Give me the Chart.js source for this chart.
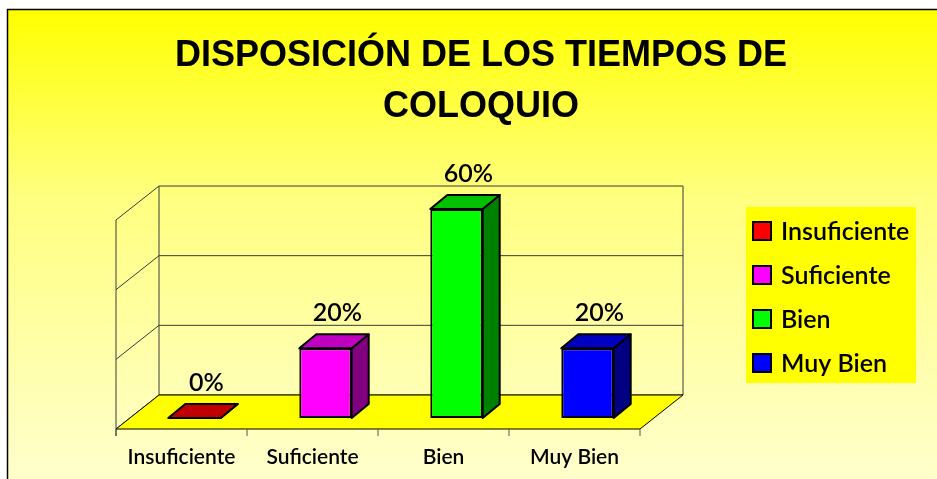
<!DOCTYPE html>
<html><head><meta charset="utf-8">
<script src="https://cdn.jsdelivr.net/npm/chart.js@4.4.0/dist/chart.umd.min.js"></script>
<style>html,body{margin:0;padding:0;background:#fff;overflow:hidden}canvas{display:block}</style>
</head><body>
<canvas id="c" width="937" height="479"></canvas>
<script>
// ---- data ----
const categories = ['Insuficiente', 'Suficiente', 'Bien', 'Muy Bien'];
const values = [0, 0.2, 0.6, 0.2];
const yTicks = [0, 0.2, 0.4, 0.6];
const titleLines = ['DISPOSICIÓN DE LOS TIEMPOS DE', 'COLOQUIO'];

// ---- styles ----
const frontColors = ['#FF0000', '#FF00FF', '#00FF00', '#0000FF'];
const topColors = ['#C00000', '#C000C0', '#00C000', '#0000C0'];
const sideColors = ['#800000', '#800080', '#008000', '#000080'];
const BAR_DX = 17, BAR_DY = -14;      // bar depth
const FRONT_DX = -13, FRONT_DY = 11;  // floor front edge vs bar plane
const BACK_DX = 30, BACK_DY = -23;    // back wall vs bar plane
const LABEL_FONT = 'Lato, "Open Sans", sans-serif';

function pct(v) { return Math.round(v * 100) + '%'; }

function poly(ctx, pts, fill, stroke, lw) {
  ctx.beginPath();
  ctx.moveTo(pts[0][0], pts[0][1]);
  for (let i = 1; i < pts.length; i++) ctx.lineTo(pts[i][0], pts[i][1]);
  ctx.closePath();
  if (fill) { ctx.fillStyle = fill; ctx.fill(); }
  if (stroke) { ctx.strokeStyle = stroke; ctx.lineWidth = lw; ctx.stroke(); }
}
function line(ctx, x1, y1, x2, y2) {
  ctx.beginPath(); ctx.moveTo(x1, y1); ctx.lineTo(x2, y2); ctx.stroke();
}

const scene = {
  id: 'scene',
  beforeDraw(chart) {
    const ctx = chart.ctx, W = chart.width, H = chart.height;
    ctx.save();
    ctx.fillStyle = '#fff'; ctx.fillRect(0, 0, W, H);
    const g = ctx.createLinearGradient(0, 9, 0, H);
    g.addColorStop(0, '#FFFF00');
    g.addColorStop(0.4, '#FFFF80');
    g.addColorStop(1, '#FFFFCC');
    ctx.fillStyle = g; ctx.fillRect(7, 9, W - 7, H - 9);
    ctx.strokeStyle = '#000'; ctx.lineWidth = 1.5;
    ctx.beginPath(); ctx.moveTo(7.5, H); ctx.lineTo(7.5, 9.5); ctx.lineTo(W, 9.5); ctx.stroke();
    ctx.restore();
  },
  beforeDatasetsDraw(chart) {
    const ctx = chart.ctx, xs = chart.scales.x, ys = chart.scales.y;
    const n = categories.length;
    const L = xs.getPixelForValue(-0.5), R = xs.getPixelForValue(n - 0.5);
    const y0 = ys.getPixelForValue(0), yT = ys.getPixelForValue(yTicks[yTicks.length - 1]);
    ctx.save();
    ctx.strokeStyle = '#3a3a3a'; ctx.lineWidth = 1;
    // back wall grid + left wall diagonals
    yTicks.forEach(v => {
      const yp = ys.getPixelForValue(v);
      line(ctx, L + BACK_DX, yp + BACK_DY, R + BACK_DX, yp + BACK_DY);
      line(ctx, L + FRONT_DX, yp + FRONT_DY, L + BACK_DX, yp + BACK_DY);
    });
    line(ctx, L + BACK_DX, yT + BACK_DY, L + BACK_DX, y0 + BACK_DY);
    line(ctx, R + BACK_DX, yT + BACK_DY, R + BACK_DX, y0 + BACK_DY);
    line(ctx, L + FRONT_DX, yT + FRONT_DY, L + FRONT_DX, y0 + FRONT_DY + 7);
    // floor
    poly(ctx, [[L + FRONT_DX, y0 + FRONT_DY], [R + FRONT_DX, y0 + FRONT_DY],
               [R + BACK_DX, y0 + BACK_DY], [L + BACK_DX, y0 + BACK_DY]], '#FFFF00', '#000', 1);
    // category ticks on the front edge
    ctx.strokeStyle = '#555'; ctx.lineWidth = 1;
    for (let i = 0; i <= n; i++) {
      const x = xs.getPixelForValue(i - 0.5) + FRONT_DX;
      line(ctx, x, y0 + FRONT_DY, x, y0 + FRONT_DY + 7);
    }
    // bar tops and sides
    const meta = chart.getDatasetMeta(0);
    ctx.lineJoin = 'round';
    meta.data.forEach((el, i) => {
      const p = el.getProps(['x', 'y', 'base', 'width'], true);
      const l = p.x - p.width / 2, r = p.x + p.width / 2;
      poly(ctx, [[r, p.y], [r + BAR_DX, p.y + BAR_DY], [r + BAR_DX, p.base + BAR_DY], [r, p.base]],
           sideColors[i], '#000', 2);
      poly(ctx, [[l, p.y], [r, p.y], [r + BAR_DX, p.y + BAR_DY], [l + BAR_DX, p.y + BAR_DY]],
           topColors[i], '#000', 2);
    });
    ctx.restore();
  },
  afterDatasetsDraw(chart) {
    const ctx = chart.ctx;
    const meta = chart.getDatasetMeta(0);
    ctx.save();
    ctx.fillStyle = '#000';
    ctx.font = '600 25px ' + LABEL_FONT;
    ctx.textAlign = 'center'; ctx.textBaseline = 'alphabetic';
    meta.data.forEach((el, i) => {
      const p = el.getProps(['x', 'y'], true);
      ctx.fillText(pct(values[i]), p.x + 12, p.y + BAR_DY - 13);
    });
    ctx.restore();
  },
  afterDraw(chart) {
    const ctx = chart.ctx;
    ctx.save();
    ctx.fillStyle = '#FFFF00';
    ctx.fillRect(746, 207, 170, 176);
    ctx.font = '600 25px ' + LABEL_FONT;
    ctx.textAlign = 'left'; ctx.textBaseline = 'middle';
    categories.forEach((c, i) => {
      const cy = 231 + i * 44;
      ctx.fillStyle = frontColors[i];
      ctx.fillRect(753, cy - 9, 18, 18);
      ctx.strokeStyle = '#000'; ctx.lineWidth = 2;
      ctx.strokeRect(753, cy - 9, 18, 18);
      ctx.fillStyle = '#000';
      ctx.fillText(c, 781, cy + 1);
    });
    ctx.restore();
  }
};

new Chart(document.getElementById('c'), {
  type: 'bar',
  data: {
    labels: categories,
    datasets: [{
      label: 'Disposición',
      data: values,
      backgroundColor: frontColors,
      borderColor: '#000',
      borderWidth: 2,
      borderSkipped: false,
      categoryPercentage: 1,
      barPercentage: 0.4
    }]
  },
  options: {
    responsive: false,
    animation: false,
    devicePixelRatio: 1,
    layout: { padding: { left: 25, right: 0, top: 0, bottom: 0 }, autoPadding: false },
    plugins: {
      legend: { display: false },
      tooltip: { enabled: false },
      title: {
        display: true,
        text: titleLines,
        color: '#000',
        font: { family: '"Liberation Sans", Arial, sans-serif', size: 36, weight: 'bold', lineHeight: 51 / 36 },
        padding: { top: 31, bottom: 76 }
      }
    },
    scales: {
      x: {
        grid: { display: false, drawTicks: false },
        border: { display: false },
        ticks: { color: '#000', font: { family: LABEL_FONT, size: 21, weight: '600' }, padding: 27, labelOffset: FRONT_DX, maxRotation: 0, autoSkip: false },
        afterFit: s => { s.height = 61; }
      },
      y: {
        min: 0, max: 0.6,
        afterBuildTicks: s => { s.ticks = yTicks.map(v => ({ value: v })); },
        grid: { display: false, drawTicks: false },
        border: { display: false },
        ticks: { display: false },
        afterFit: s => { s.width = 104; }
      },
      y2: {
        position: 'right',
        grid: { display: false, drawTicks: false },
        border: { display: false },
        ticks: { display: false },
        afterFit: s => { s.width = 284; }
      }
    }
  },
  plugins: [scene]
});
</script>
</body></html>
